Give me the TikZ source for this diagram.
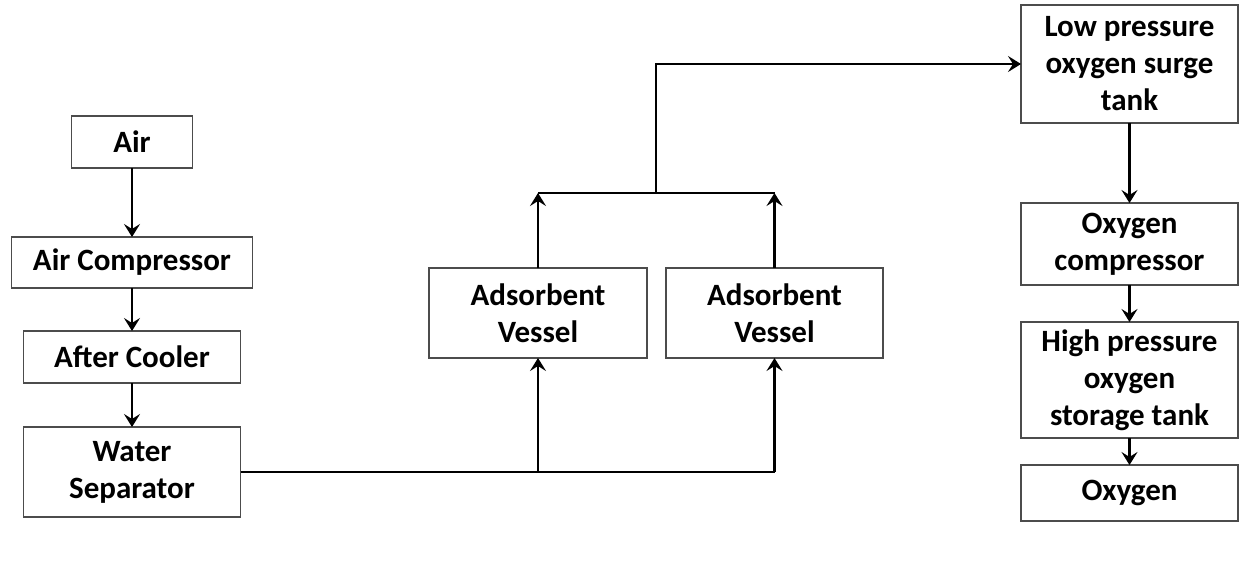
\documentclass[tikz,border=0pt]{standalone}
\usepackage{fontspec}
\setmainfont{Carlito}
\usepackage{tikz}
\usetikzlibrary{arrows.meta}

\tikzset{
  unit/.style={draw=black!70,line width=0.7pt,fill=white,align=center,
    inner sep=0pt,outer sep=0pt,minimum width=108.5pt,
    font=\fontsize{15.5}{18.5}\selectfont\bfseries},
  pipe/.style={line width=1.1pt},
  flow/.style={pipe,-{Stealth[length=6.5pt,width=8pt,inset=2.5pt]}}
}

\begin{document}
\begin{tikzpicture}[x=0.5pt,y=-0.5pt]
    \useasboundingbox (0,0) rectangle (1239,569);

    % air side
    \node[unit,minimum width=60.5pt,minimum height=26pt] (air) at (132,142) {Air};
    \node[unit,minimum width=120.5pt,minimum height=25.5pt] (comp) at (132,262.5) {Air Compressor};
    \node[unit,minimum height=26pt] (cooler) at (132,357) {After Cooler};
    \node[unit,minimum height=45pt] (sep) at (132,472) {Water\\Separator};

    % adsorbers
    \node[unit,minimum width=109pt,minimum height=45pt] (ves1) at (538,313) {Adsorbent\\Vessel};
    \node[unit,minimum height=45pt] (ves2) at (774.5,313) {Adsorbent\\Vessel};

    % oxygen side
    \node[unit,minimum height=59pt] (lptank) at (1129.5,64) {Low pressure\\oxygen surge\\tank};
    \node[unit,minimum height=41pt] (o2comp) at (1129.5,244) {Oxygen\\compressor};
    \node[unit,minimum height=58pt] (hptank) at (1129.5,380) {High pressure\\oxygen\\storage tank};
    \node[unit,minimum height=28pt] (oxygen) at (1129.5,493) {Oxygen};

    \draw[flow] (air) -- (comp);
    \draw[flow] (comp) -- (cooler);
    \draw[flow] (cooler) -- (sep);

    % feed to both vessels
    \coordinate (tee) at (ves1.south |- sep.east);
    \coordinate (feed) at (ves2.south |- sep.east);
    \draw[pipe] (sep.east) -- (feed);
    \draw[flow] (tee) -- (ves1.south);
    \draw[flow] (feed) -- (ves2.south);

    % product header
    \coordinate (hdr) at (656,193);
    \draw[flow] (ves1.north) -- (ves1.north |- hdr);
    \draw[flow] (ves2.north) -- (ves2.north |- hdr);
    \draw[pipe] (ves1.north |- hdr) -- (ves2.north |- hdr);
    \draw[flow] (hdr) |- (lptank.west);

    \draw[flow] (lptank) -- (o2comp);
    \draw[flow] (o2comp) -- (hptank);
    \draw[flow] (hptank) -- (oxygen);
  \end{tikzpicture}
\end{document}
